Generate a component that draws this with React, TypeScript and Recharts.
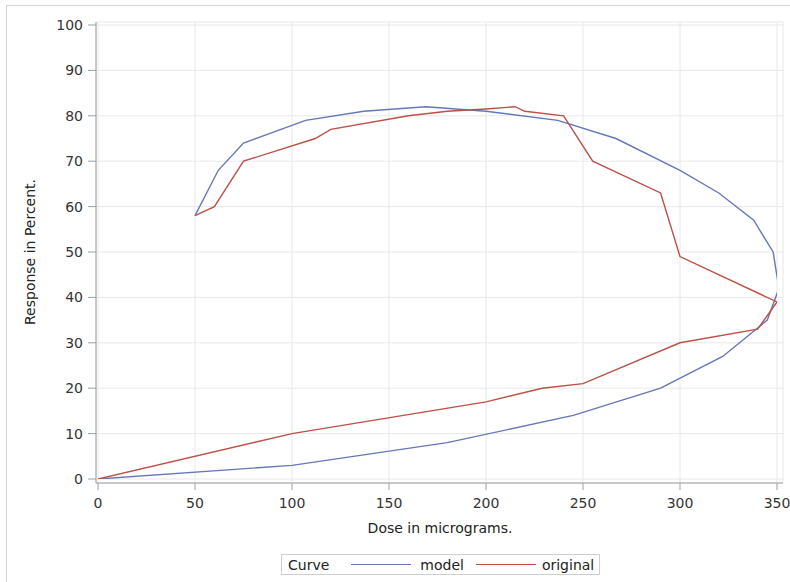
import { LineChart, Line, XAxis, YAxis, CartesianGrid } from 'recharts';

const xTicks = [0, 50, 100, 150, 200, 250, 300, 350];
const yTicks = [0, 10, 20, 30, 40, 50, 60, 70, 80, 90, 100];

const modelDose = [50, 62, 75, 107, 137, 169, 200, 237, 267, 300, 320, 338, 348, 351, 345, 322, 290, 245, 180, 100, 0];
const modelResp = [58, 68, 74, 79, 81, 82, 81, 79, 75, 68, 63, 57, 50, 42, 35, 27, 20, 14, 8, 3, 0];

const origDose = [50, 60, 75, 112, 120, 160, 180, 200, 215, 220, 240, 255, 290, 300, 350, 340, 300, 250, 229, 200, 100, 0];
const origResp = [58, 60, 70, 75, 77, 80, 81, 81.5, 82, 81, 80, 70, 63, 49, 39, 33, 30, 21, 20, 17, 10, 0];

const modelData = modelDose.map((d, i) => ({ dose: d, resp: modelResp[i] }));
const origData = origDose.map((d, i) => ({ dose: d, resp: origResp[i] }));

const font = '"DejaVu Sans", sans-serif';
const axisColor = '#9a9ea3';
const blue = '#6677b8';
const red = '#bb5147';

export default function App() {
  const tickStyle = { fontSize: 14, fill: '#333', fontFamily: font };

  return (
    <div style={{ position: 'fixed', left: 0, top: 0, width: 790, height: 582, background: '#fff', fontFamily: font }}>
      {/* outer frame */}
      <div style={{ position: 'absolute', left: 6, top: 5, right: 0, bottom: 0, borderTop: '1px solid #d4d4d4', borderLeft: '1px solid #d4d4d4' }} />

      <div style={{ position: 'absolute', left: 0, top: 0 }}>
        <LineChart width={790} height={582} margin={{ top: 22, right: 7, bottom: 59, left: 0 }}>
          <CartesianGrid stroke="#e8e8e8" strokeWidth={1} />
          <XAxis
            type="number"
            dataKey="dose"
            domain={[0, 350]}
            ticks={xTicks}
            padding={{ left: 2, right: 6 }}
            height={40}
            tickSize={7}
            tickMargin={8}
            tick={tickStyle}
            stroke={axisColor}
            allowDataOverflow
          />
          <XAxis
            xAxisId="top"
            orientation="top"
            type="number"
            domain={[0, 350]}
            height={0}
            tick={false}
            tickLine={false}
            stroke={axisColor}
          />
          <YAxis
            type="number"
            dataKey="resp"
            domain={[0, 100]}
            ticks={yTicks}
            padding={{ top: 3, bottom: 4 }}
            width={96}
            tickSize={8}
            tickMargin={5}
            tick={tickStyle}
            stroke={axisColor}
            allowDataOverflow
          />
          <YAxis
            yAxisId="right"
            orientation="right"
            type="number"
            domain={[0, 100]}
            width={0}
            tick={false}
            tickLine={false}
            stroke={axisColor}
          />
          <Line data={modelData} dataKey="resp" type="linear" stroke={blue} strokeWidth={1.4} dot={false} isAnimationActive={false} />
          <Line data={origData} dataKey="resp" type="linear" stroke={red} strokeWidth={1.4} dot={false} isAnimationActive={false} />
        </LineChart>
      </div>

      {/* axis titles */}
      <div style={{ position: 'absolute', left: 30, top: 252, transform: 'translate(-50%, -50%) rotate(-90deg)', fontSize: 14, color: '#222', whiteSpace: 'nowrap' }}>
        Response in Percent.
      </div>
      <div style={{ position: 'absolute', left: 440, top: 528, transform: 'translate(-50%, -50%)', fontSize: 14, color: '#222', whiteSpace: 'nowrap' }}>
        Dose in micrograms.
      </div>

      {/* legend */}
      <div style={{ position: 'absolute', left: 281, top: 554, width: 317, height: 19, border: '1px solid #cfcfcf', fontSize: 14, color: '#222', display: 'flex', alignItems: 'center', whiteSpace: 'nowrap' }}>
        <span style={{ marginLeft: 6 }}>Curve</span>
        <span style={{ display: 'inline-block', width: 60, height: 0, borderTop: `1.4px solid ${blue}`, marginLeft: 22 }} />
        <span style={{ marginLeft: 9 }}>model</span>
        <span style={{ display: 'inline-block', width: 60, height: 0, borderTop: `1.4px solid ${red}`, marginLeft: 12 }} />
        <span style={{ marginLeft: 6 }}>original</span>
      </div>
    </div>
  );
}
